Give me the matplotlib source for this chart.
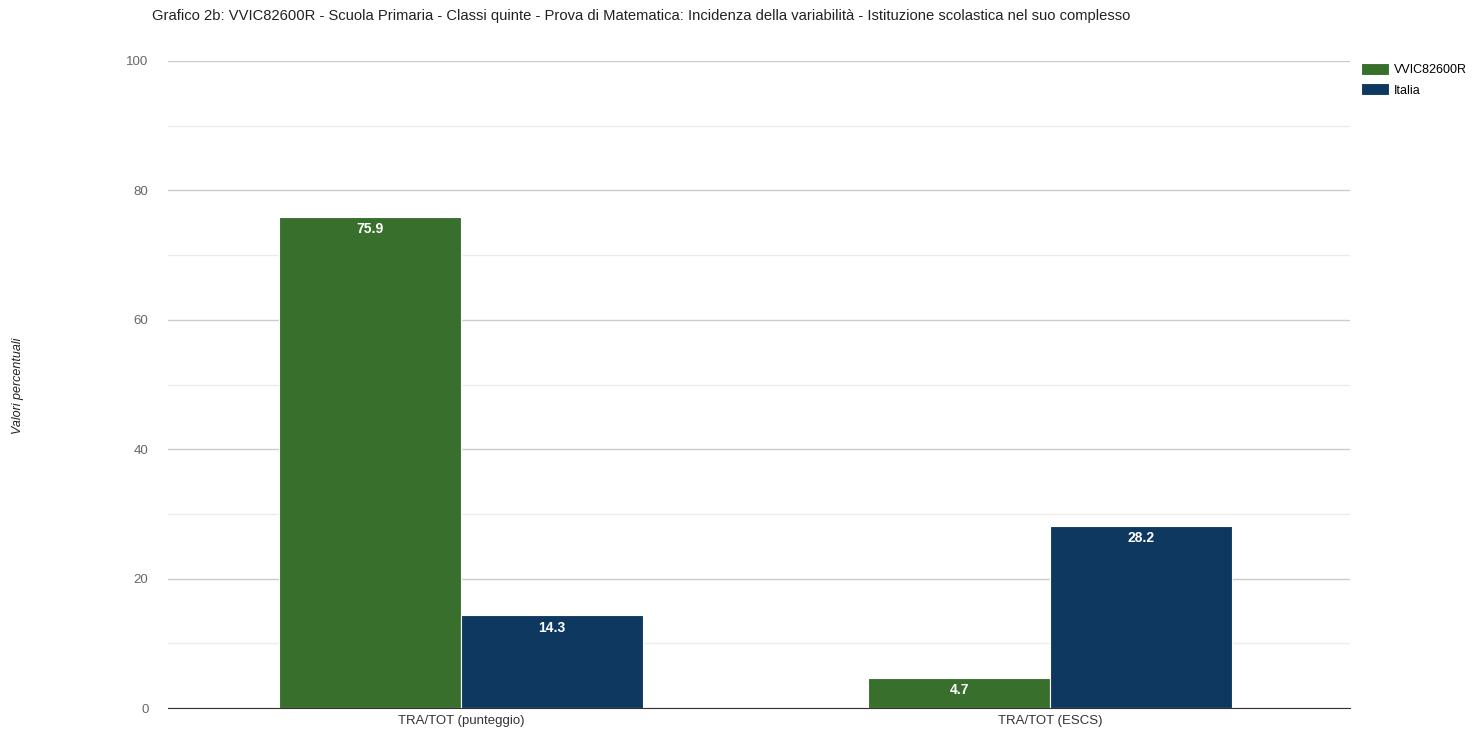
import numpy as np
import matplotlib.pyplot as plt
from matplotlib.ticker import MultipleLocator

categories = ['TRA/TOT (punteggio)', 'TRA/TOT (ESCS)']
series_names = ['VVIC82600R', 'Italia']
school_values = [75.9, 4.7]
italy_values = [14.3, 28.2]

title = ('Grafico 2b: VVIC82600R - Scuola Primaria - Classi quinte - Prova di Matematica: '
         'Incidenza della variabilità - Istituzione scolastica nel suo complesso')

green = '#386f2c'
blue = '#0e3860'

plt.rcParams['font.family'] = ['Liberation Sans', 'DejaVu Sans']

fig = plt.figure(figsize=(14.77, 7.41), dpi=100)
ax = fig.add_axes([0.1137, 0.0445, 0.8003, 0.8732])

x = np.arange(len(categories))
width = 0.309
bars1 = ax.bar(x - width / 2, school_values, width, color=green, label=series_names[0],
               edgecolor='white', linewidth=0.8, zorder=3)
bars2 = ax.bar(x + width / 2, italy_values, width, color=blue, label=series_names[1],
               edgecolor='white', linewidth=0.8, zorder=3)

for bars in (bars1, bars2):
    for b in bars:
        ax.annotate(f'{b.get_height():.1f}', (b.get_x() + b.get_width() / 2, b.get_height()),
                    xytext=(0, -4), textcoords='offset points', ha='center', va='top',
                    color='white', fontsize=10, fontweight='bold', zorder=4)

ax.set_xlim(-0.4975, 1.509)
ax.set_ylim(0, 100)
ax.yaxis.set_major_locator(MultipleLocator(20))
ax.yaxis.set_minor_locator(MultipleLocator(10))
ax.grid(axis='y', which='major', color='#cccccc', linewidth=1, zorder=0)
ax.grid(axis='y', which='minor', color='#ececec', linewidth=1, zorder=0)
ax.set_xticks(x)
ax.set_xticklabels(categories, fontsize=9.5, color='#333333')
ax.tick_params(axis='y', which='both', length=0, labelsize=9.5, labelcolor='#666666', pad=14)
ax.tick_params(axis='x', length=0, pad=5)
for s in ['top', 'right', 'left']:
    ax.spines[s].set_visible(False)
ax.spines['bottom'].set_color('#333333')
ax.spines['bottom'].set_zorder(5)

fig.text(0.103, 0.979, title, fontsize=10.6, color='#222222', ha='left', va='center')
fig.text(0.012, 0.48, 'Valori percentuali', rotation=90, fontsize=9, style='italic',
         color='#222222', ha='center', va='center')

ax.legend(loc='upper left', bbox_to_anchor=(1.0, 1.015), frameon=False, fontsize=9,
          handlelength=2.2, handleheight=1.1, handletextpad=0.4, labelspacing=0.6)

fig.savefig('out.png', dpi=100)
